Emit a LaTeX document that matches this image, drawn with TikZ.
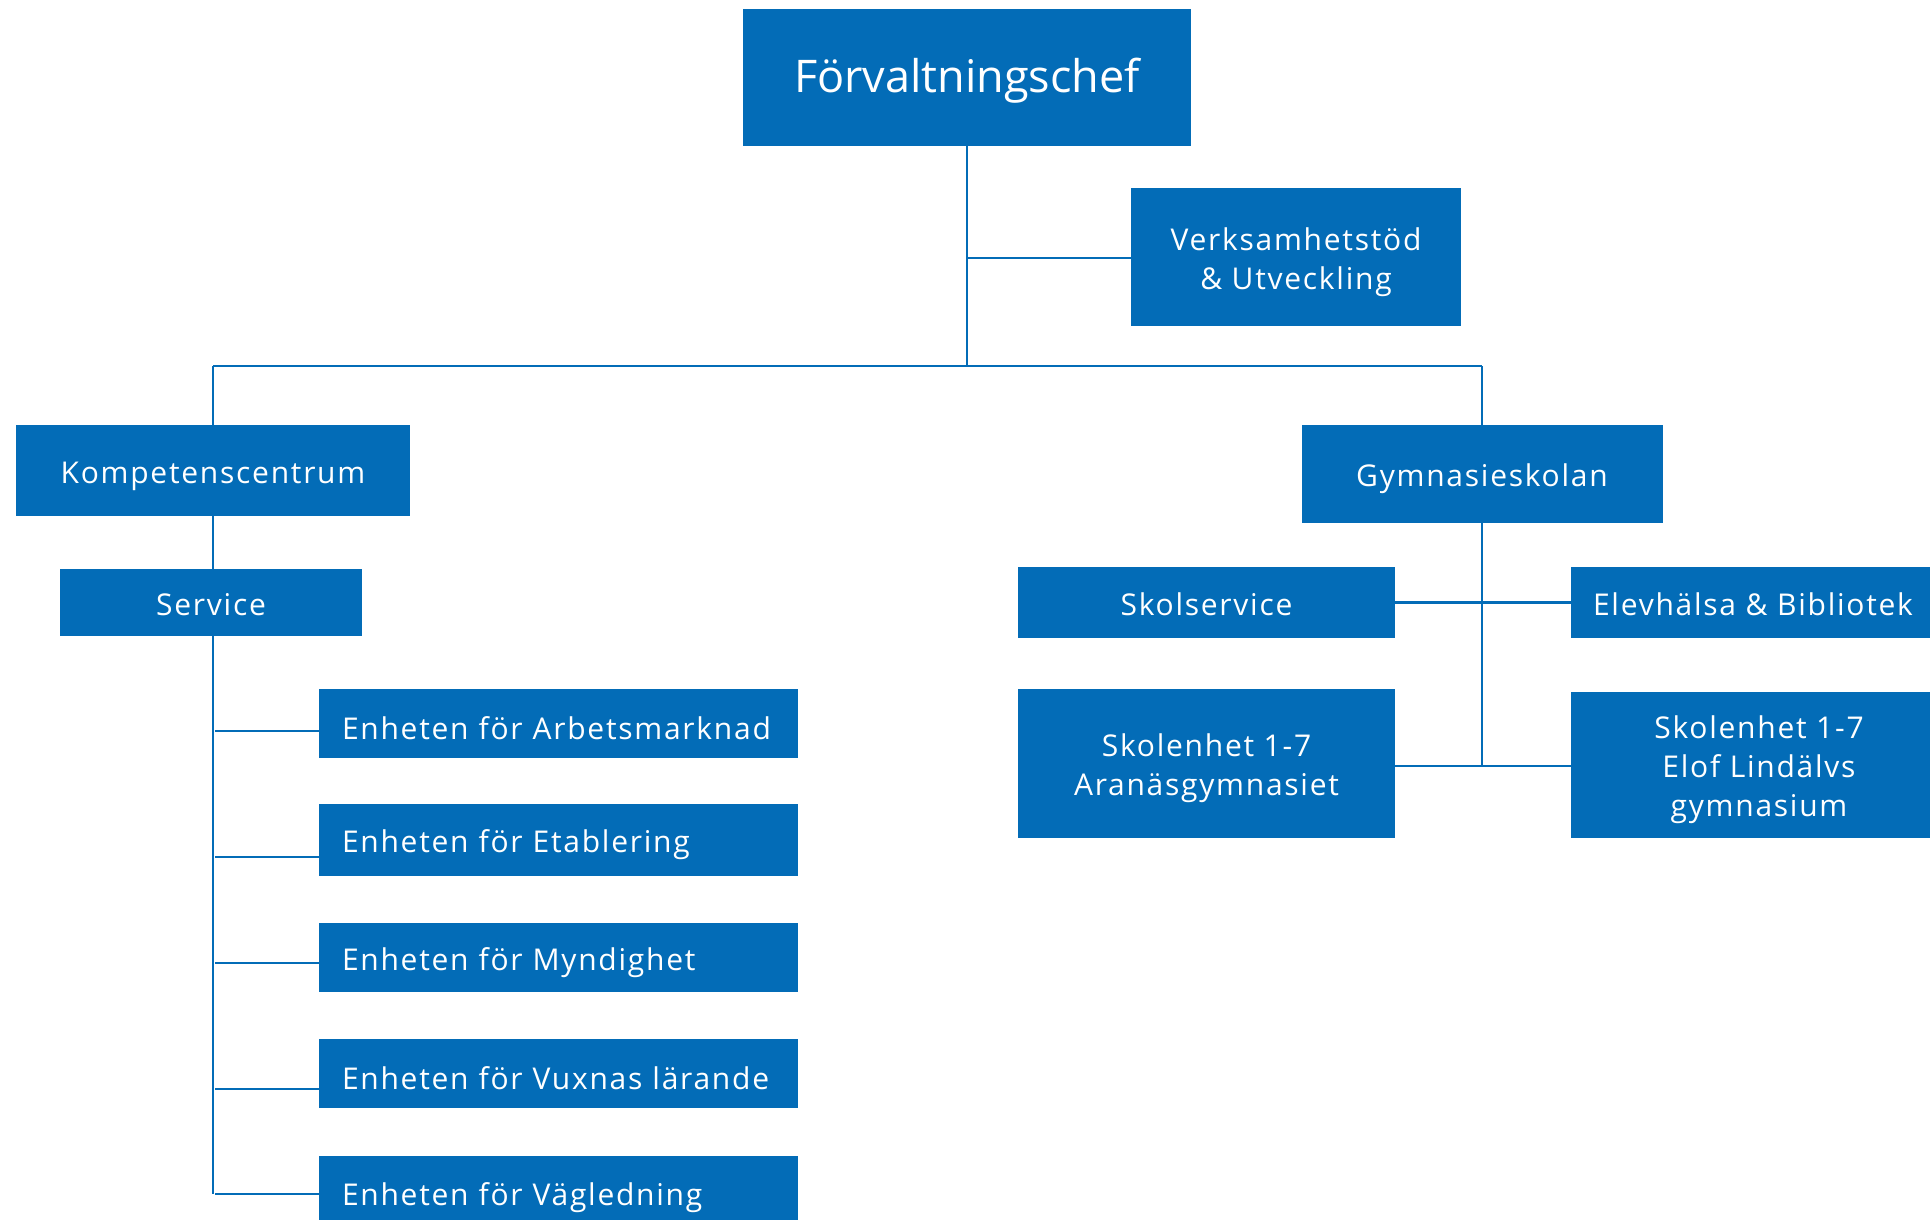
\documentclass[tikz,border=0pt]{standalone}
\usepackage{fontspec}
\setmainfont{Open Sans}
\newfontfamily\boxfont[LetterSpace=5.8]{Open Sans}
\definecolor{boxblue}{RGB}{3,108,183}
\newcommand\lbl[1]{\raisebox{-5pt}[\height][\depth]{\begin{tabular}{@{}c@{}}#1\end{tabular}}}
\newcommand\lbll[1]{\raisebox{-5pt}[\height][\depth]{#1}}
\begin{document}
\begin{tikzpicture}[x=1pt,y=-1pt,
  box/.style={fill=boxblue,draw=none,text=white,inner sep=0pt,align=center,font=\boxfont\fontsize{30}{39}\selectfont},
  unit/.style={box,minimum width=479pt,text width=433pt,inner xsep=23pt,align=left},
  conn/.style={draw=boxblue,line width=2.5pt}]
\useasboundingbox (0,0) rectangle (1930,1220);
\node[box,minimum width=448pt,minimum height=137pt,font=\fontsize{45}{50}\selectfont] (chef) at (967,77.5) {\lbl{Förvaltningschef}};
\node[box,minimum width=330pt,minimum height=138pt] (verk) at (1296,257) {\lbl{Verksamhetstöd\\\& Utveckling}};
\node[box,minimum width=394pt,minimum height=91pt] (komp) at (213,470.5) {\lbl{Kompetenscentrum}};
\node[box,minimum width=361pt,minimum height=98pt] (gym) at (1482,474) {\lbl{Gymnasieskolan}};
\node[box,minimum width=302pt,minimum height=67pt] (serv) at (211,602.5) {\lbl{Service}};
\node[unit,minimum height=69pt] (e1) at (558.5,723.5) {\lbll{Enheten för Arbetsmarknad}};
\node[unit,minimum height=72pt] (e2) at (558.5,840) {\lbll{Enheten för Etablering}};
\node[unit,minimum height=69pt] (e3) at (558.5,957.5) {\lbll{Enheten för Myndighet}};
\node[unit,minimum height=69pt] (e4) at (558.5,1073.5) {\lbll{Enheten för Vuxnas lärande}};
\node[unit,minimum height=74pt] (e5) at (558.5,1193) {\lbll{Enheten för Vägledning}};
\node[box,minimum width=377pt,minimum height=71pt] (skol) at (1206.5,602.5) {\lbl{Skolservice}};
\node[box,minimum width=364pt,minimum height=71pt] (elev) at (1753,602.5) {\lbl{Elevhälsa \& Bibliotek}};
\node[box,minimum width=377pt,minimum height=149pt] (aran) at (1206.5,763.5) {\lbl{Skolenhet 1-7\\Aranäsgymnasiet}};
\node[box,minimum width=376pt,minimum height=146pt] (elof) at (1759,765) {\lbl{Skolenhet 1-7\\Elof Lindälvs\\gymnasium}};
\coordinate (bus) at (967,366);
\coordinate (busL) at (213,366);
\coordinate (busR) at (1482,366);
\coordinate (vj) at (967,258);
\coordinate (lend) at (213,1194);
\coordinate (gj) at (1482,766);
\draw[conn] (chef.south) -- (bus);
\draw[conn] (vj) -- (verk.west |- vj);
\draw[conn] (busL) -- (busR);
\draw[conn] (busL) -- (komp.north);
\draw[conn] (busR) -- (gym.north);
\draw[conn] (komp.south) -- (serv.north -| komp.south);
\draw[conn] (serv.south -| komp.south) -- (lend);
\foreach \n/\y in {e1/731,e2/857,e3/963,e4/1089,e5/1194}
  \draw[conn] (215,\y) -- (\n.west |- 0,\y);
\draw[conn] (gym.south -| gj) -- (gj);
\draw[conn] (skol.east) -- (elev.west);
\draw[conn] (aran.east |- gj) -- (elof.west |- gj);
\end{tikzpicture}
\end{document}
